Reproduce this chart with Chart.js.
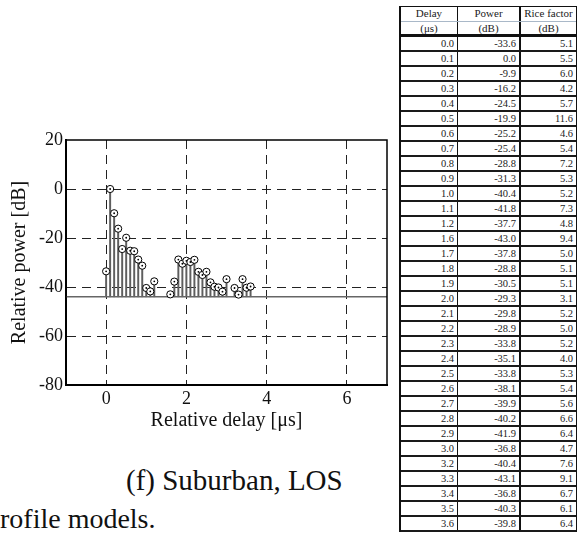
<!DOCTYPE html>
<html>
<head>
<meta charset="utf-8">
<script src="https://cdn.jsdelivr.net/npm/chart.js@4.4.1/dist/chart.umd.min.js"></script>
<style>
  body { margin: 0; background: #fff; width: 583px; height: 536px; overflow: hidden; position: relative;
         font-family: 'Liberation Serif', 'Times New Roman', serif; color: #111; }
  #plotWrap { position: absolute; left: 0; top: 0; width: 395px; height: 440px; }
  .cap { position: absolute; white-space: nowrap; color: #111; }
  #tbl { position: absolute; left: 399px; top: 6px; width: 178px; box-sizing: border-box;
         border: 1px solid #111; border-left-width: 2px; border-bottom: none; }
  .row { display: flex; height: 15px; box-sizing: border-box; border-bottom: 2px solid #1a1a1a; }
  .row.h1 { border-bottom: 1px solid #a9b8c8; }
  .row.h2 { border-bottom: 3px solid #111; }
  .cell { box-sizing: border-box; font-size: 10.5px; line-height: 13px; text-align: right;
          padding-right: 3px; color: #222; overflow: hidden; white-space: nowrap; }
  .h1 .cell, .h2 .cell { text-align: center; padding-right: 0; font-size: 11px; }
  .h2 .cell { line-height: 12px; }
  .c1 { width: 57px; border-right: 1px solid #111; }
  .c2 { width: 63px; border-right: 2px solid #111; }
  .c3 { width: 55px; }
</style>
</head>
<body>
<div id="plotWrap"><canvas id="pdp"></canvas></div>
<div class="cap" style="left:126px; top:466px; font-size:29px; line-height:29px;">(f) Suburban, LOS</div>
<div class="cap" style="left:0px; top:505px; font-size:28px; line-height:28px;">rofile models.</div>
<div id="tbl"></div>

<script>
// table / chart data
const delays = [0.0, 0.1, 0.2, 0.3, 0.4, 0.5, 0.6, 0.7, 0.8, 0.9, 1.0, 1.1, 1.2,
                1.6, 1.7, 1.8, 1.9, 2.0, 2.1, 2.2, 2.3, 2.4, 2.5, 2.6, 2.7, 2.8, 2.9, 3.0,
                3.2, 3.3, 3.4, 3.5, 3.6];
const powers = [-33.6, 0.0, -9.9, -16.2, -24.5, -19.9, -25.2, -25.4, -28.8, -31.3, -40.4, -41.8, -37.7,
                -43.0, -37.8, -28.8, -30.5, -29.3, -29.8, -28.9, -33.8, -35.1, -33.8, -38.1, -39.9, -40.2, -41.9, -36.8,
                -40.4, -43.1, -36.8, -40.3, -39.8];
const riceFactors = [5.1, 5.5, 6.0, 4.2, 5.7, 11.6, 4.6, 5.4, 7.2, 5.3, 5.2, 7.3, 4.8,
                     9.4, 5.0, 5.1, 5.1, 3.1, 5.2, 5.0, 5.2, 4.0, 5.3, 5.4, 5.6, 6.6, 6.4, 4.7,
                     7.6, 9.1, 6.7, 6.1, 6.4];
const headerTop = ['Delay', 'Power', 'Rice factor'];
const headerUnits = ['(μs)', '(dB)', '(dB)'];

const baselineDb = -44;          // stem baseline / threshold line
const xRange = [-1, 7];
const yRange = [-80, 20];
const xTickValues = [0, 2, 4, 6];
const yTickValues = [20, 0, -20, -40, -60, -80];

// ---- table ----
const tbl = document.getElementById('tbl');
function addRow(cls, vals) {
    const row = document.createElement('div');
    row.className = 'row ' + cls;
    vals.forEach((v, j) => {
        const c = document.createElement('div');
        c.className = 'cell c' + (j + 1);
        c.textContent = v;
        row.appendChild(c);
    });
    tbl.appendChild(row);
}
addRow('h1', headerTop);
addRow('h2', headerUnits);
delays.forEach((d, i) => addRow('', [d.toFixed(1), powers[i].toFixed(1), riceFactors[i].toFixed(1)]));

// ---- chart ----
Chart.defaults.font.family = "'Liberation Serif', 'Times New Roman', serif";
Chart.defaults.color = '#111';

const points = delays.map((d, i) => ({ x: d, y: powers[i] }));
const gridColor = '#222';
const hideEnds = (range) => (c) => (c.tick && range.includes(c.tick.value)) ? 'rgba(0,0,0,0)' : gridColor;

const framePlugin = {
    id: 'frame',
    afterDraw(chart) {
        const { ctx, chartArea: a } = chart;
        ctx.save();
        ctx.strokeStyle = '#000';
        ctx.lineWidth = 1.5;
        ctx.strokeRect(a.left, a.top, a.right - a.left, a.bottom - a.top);
        ctx.restore();
    }
};

new Chart(document.getElementById('pdp'), {
    type: 'bar',
    data: {
        datasets: [
            {
                // stems
                type: 'bar',
                data: points,
                base: baselineDb,
                backgroundColor: '#5e5e5e',
                barThickness: 1.3,
                order: 4
            },
            {
                // threshold line
                type: 'line',
                data: [{ x: xRange[0], y: baselineDb }, { x: xRange[1], y: baselineDb }],
                borderColor: '#666',
                borderWidth: 1.6,
                pointRadius: 0,
                order: 3
            },
            {
                type: 'scatter',
                data: points,
                pointRadius: 3.6,
                pointBackgroundColor: '#fff',
                pointBorderColor: '#000',
                pointBorderWidth: 1,
                order: 2
            },
            {
                type: 'scatter',
                data: points,
                pointRadius: 0.9,
                pointBackgroundColor: '#000',
                pointBorderWidth: 0,
                order: 1
            }
        ]
    },
    options: {
        responsive: true,
        maintainAspectRatio: false,
        animation: false,
        layout: { padding: { top: 140, right: 8, left: 0, bottom: 0 } },
        plugins: { legend: { display: false }, tooltip: { enabled: false } },
        scales: {
            x: {
                type: 'linear',
                min: xRange[0],
                max: xRange[1],
                offset: false,
                afterBuildTicks: s => { s.ticks = xTickValues.map(v => ({ value: v })); },
                afterFit: s => { s.height = 55; },
                ticks: { font: { size: 18 }, color: '#111', padding: 3, maxRotation: 0, autoSkip: false },
                grid: { color: hideEnds(xRange), lineWidth: 1, drawTicks: false, offset: false },
                border: { display: true, color: '#000', width: 2, dash: [9, 6] },
                title: { display: true, text: 'Relative delay [μs]', font: { size: 20 }, color: '#111',
                         padding: { top: 0, bottom: 7 } }
            },
            y: {
                type: 'linear',
                min: yRange[0],
                max: yRange[1],
                afterBuildTicks: s => { s.ticks = yTickValues.map(v => ({ value: v })); },
                afterFit: s => { s.width = 66; },
                ticks: { font: { size: 18 }, color: '#111', padding: 3 },
                grid: { color: hideEnds(yRange), lineWidth: 1, drawTicks: false },
                border: { display: true, color: '#000', width: 2, dash: [9, 6] },
                title: { display: true, text: 'Relative power [dB]', font: { size: 20 }, color: '#111',
                         padding: { top: 8, bottom: 0 } }
            }
        }
    },
    plugins: [framePlugin]
});
</script>
</body>
</html>
